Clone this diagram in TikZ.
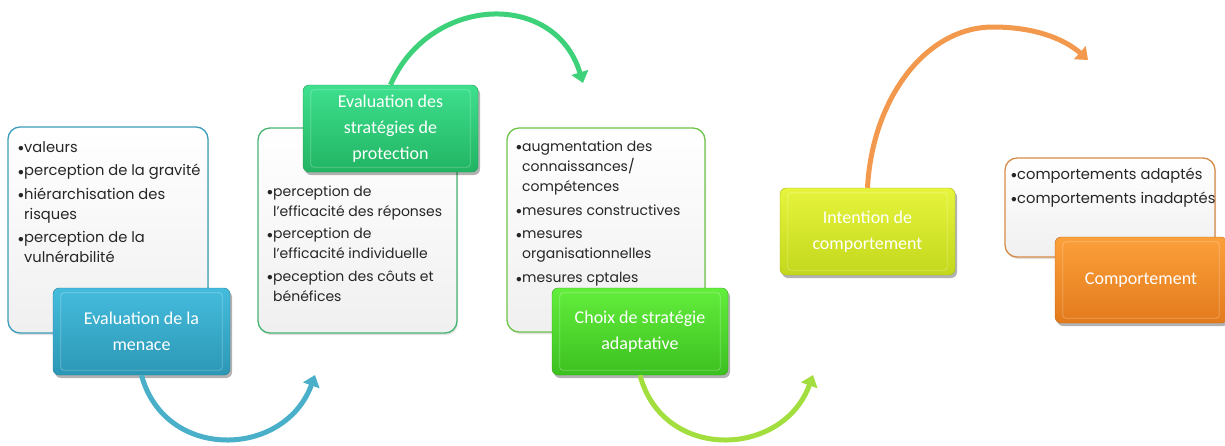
\documentclass[tikz,border=0pt]{standalone}
\usepackage{fontspec}
\setmainfont{Poppins}
\newfontfamily\headfont{Carlito}
\usetikzlibrary{shadows,arrows.meta,calc}
\definecolor{tealTop}{HTML}{45BCDD}
\definecolor{tealBot}{HTML}{2C97B5}
\definecolor{tealLine}{HTML}{3C9DBA}
\definecolor{tealArrow}{HTML}{4AAFC9}
\definecolor{gTop}{HTML}{3EE08E}
\definecolor{gBot}{HTML}{21B463}
\definecolor{gLine}{HTML}{47B574}
\definecolor{gArrow}{HTML}{3DD27A}
\definecolor{lgTop}{HTML}{63EE3C}
\definecolor{lgBot}{HTML}{3CC020}
\definecolor{lgLine}{HTML}{6DC447}
\definecolor{lgArrow}{HTML}{A2DE3E}
\definecolor{yTop}{HTML}{E6F43C}
\definecolor{yBot}{HTML}{C3D81C}
\definecolor{oTop}{HTML}{FBA03A}
\definecolor{oBot}{HTML}{E37A1C}
\definecolor{oLine}{HTML}{D68A45}
\definecolor{oArrow}{HTML}{F2994D}
\newcommand\bul{\makebox[6pt][l]{\raisebox{0.5pt}{\scalebox{0.8}{$\bullet$}}}}
\newcommand\hng{\hspace*{6pt}}
\newcommand\fl{\rule{0pt}{12pt}}
\tikzset{
  hbox/.style={rounded corners=6pt, minimum width=175pt, minimum height=87pt,
    inner sep=0pt, align=center, text=white,
    font=\headfont\fontsize{18}{26}\selectfont,
    drop shadow={shadow xshift=2pt, shadow yshift=-3pt, opacity=0.3, fill=black}},
  tbox/.style={rounded corners=12pt, line width=1.3pt, top color=white,
    bottom color=black!6, inner sep=0pt,
    drop shadow={shadow xshift=1pt, shadow yshift=-2pt, opacity=0.12, fill=black}},
  btext/.style={anchor=north west, align=left, inner sep=0pt,
    font=\fontsize{14}{20}\selectfont, text=black!85},
  btextl/.style={btext, font=\fontsize{14.7}{20}\selectfont},
  flow/.style={line width=5pt, -{Triangle[width=17pt,length=11pt]}},
  bevel/.style={draw=white, opacity=0.28, line width=0.8pt, rounded corners=3pt}
}
\begin{document}
\begin{tikzpicture}[x=1pt,y=-1pt]
\useasboundingbox (0,0) rectangle (1225,445);

% text boxes
\node[tbox, draw=tealLine, minimum width=200pt, minimum height=206pt] (t1) at (108,230) {};
\node[tbox, draw=gLine, minimum width=199pt, minimum height=205pt] (t2) at (357.5,230.5) {};
\node[tbox, draw=lgLine, minimum width=198pt, minimum height=204pt] (t3) at (606,230) {};
\node[tbox, draw=oLine, minimum width=210pt, minimum height=99pt] (t5) at (1110,207.5) {};

% bullet texts
\node[btextl] (l1) at (18,140) {\fl\bul valeurs\\[3.5pt]
  \bul perception de la gravité\\[3.5pt]
  \bul hiérarchisation des\\ \hng risques\\[3.5pt]
  \bul perception de la\\ \hng vulnérabilité};
\node[btext] (l2) at (267,184) {\fl\bul perception de\\ \hng l'efficacité des réponses\\[2.5pt]
  \bul perception de\\ \hng l'efficacité individuelle\\[2.5pt]
  \bul peception des côuts et\\ \hng bénéfices};
\node[btext] (l3) at (516,139) {\fl\bul augmentation des\\ \hng connaissances/\\ \hng compétences\\[4pt]
  \bul mesures constructives\\[3.5pt]
  \bul mesures\\ \hng organisationnelles\\[4pt]
  \bul mesures cptales};
\node[btextl] (l5) at (1011,167) {\fl\bul comportements adaptés\\[4pt]
  \bul comportements inadaptés};

% free ends of the arrows
\coordinate (e1) at (315,375);
\coordinate (e2) at (583,83);
\coordinate (e3) at (813,375);
\coordinate (e4) at (1088,60);

% headline boxes
\node[hbox, draw=tealBot!85!black, top color=tealTop, bottom color=tealBot, minimum width=177pt] (m1) at (141.5,331.5) {Evaluation de la\\menace};
\node[hbox, draw=gBot!85!black, top color=gTop, bottom color=gBot] (m2) at (390.5,128.5) {Evaluation des\\stratégies de\\protection};
\node[hbox, draw=lgBot!85!black, top color=lgTop, bottom color=lgBot, minimum width=176pt] (m3) at (640,331.5) {Choix de stratégie\\adaptative};
\node[hbox, draw=yBot!85!black, top color=yTop, bottom color=yBot] (m4) at (867.5,231.5) {Intention de\\comportement};
\node[hbox, draw=oBot!85!black, top color=oTop, bottom color=oBot, minimum width=172pt, minimum height=86pt] (m5) at (1141,280) {Comportement};

% bevels
\foreach \m in {m1,m2,m3,m4,m5}{
  \draw[bevel] ($(\m.north west)+(8,5)$) rectangle ($(\m.south east)+(-8,-5)$);
}

% arrows
\draw[flow, draw=tealArrow] (m1.south) .. controls (165,462) and (285,458) .. (e1);
\draw[flow, draw=gArrow] (m2.north) .. controls (430,-5) and (555,-10) .. (e2);
\draw[flow, draw=lgArrow] (m3.south) .. controls (663,462) and (783,458) .. (e3);
\draw[flow, draw=oArrow] (m4.north) .. controls (872,100) and (925,27) .. (993,27) .. controls (1040,27) and (1068,42) .. (e4);
\end{tikzpicture}
\end{document}
